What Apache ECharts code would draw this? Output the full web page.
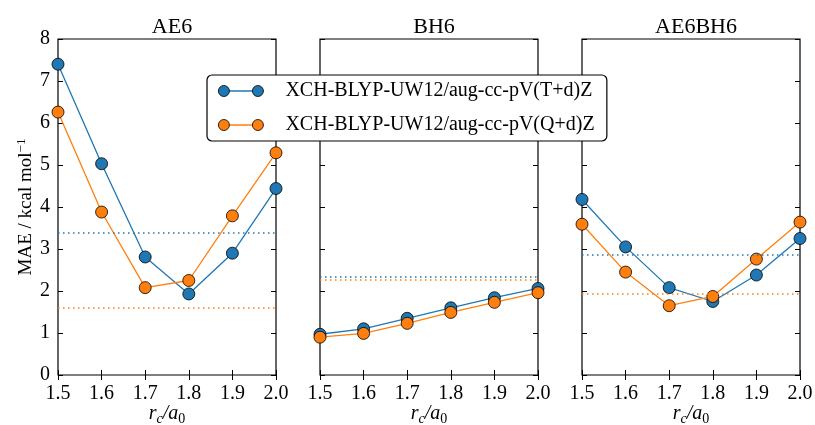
<!DOCTYPE html>
<html><head><meta charset="utf-8">
<script src="https://cdn.jsdelivr.net/npm/echarts@6/dist/echarts.min.js"></script>
<style>html,body{margin:0;padding:0;background:#fff}#c{width:815px;height:425px}</style>
</head><body><div id="c"></div>
<script>
const xValues=[1.5,1.6,1.7,1.8,1.9,2.0];
const panelTitles=['AE6','BH6','AE6BH6'];
const seriesNames=['XCH-BLYP-UW12/aug-cc-pV(T+d)Z','XCH-BLYP-UW12/aug-cc-pV(Q+d)Z'];
const ae6T=[7.40,5.03,2.81,1.93,2.90,4.44];
const ae6Q=[6.26,3.88,2.08,2.25,3.79,5.29];
const bh6T=[0.97,1.10,1.35,1.60,1.84,2.06];
const bh6Q=[0.90,0.99,1.23,1.49,1.73,1.96];
const ae6bh6T=[4.18,3.05,2.08,1.75,2.38,3.25];
const ae6bh6Q=[3.59,2.45,1.65,1.87,2.76,3.64];
const refT=[3.39,2.34,2.86];
const refQ=[1.60,2.26,1.93];
const yMin=0,yMax=8,yStep=1;
const xMin=1.5,xMax=2.0,xStep=0.1;

const colors=['#1f77b4','#ff7f0e'];
const panelData=[[ae6T,ae6Q],[bh6T,bh6Q],[ae6bh6T,ae6bh6Q]];
const refs=[refT,refQ];
const FONT='Liberation Serif';
const lefts=[58,320,582], W=218, TOP=39, H=336;

const grids=[],xAxes=[],yAxes=[],series=[],titles=[];
for(let i=0;i<3;i++){
  grids.push({left:lefts[i],top:TOP,width:W,height:H,show:true,borderColor:'#000',borderWidth:1.2,backgroundColor:'transparent',outerBoundsMode:'none',containLabel:false});
  titles.push({text:panelTitles[i],left:lefts[i]+W/2,top:11,textAlign:'center',textStyle:{fontFamily:FONT,fontSize:22,fontWeight:'normal',color:'#000'}});
  const tick={show:true,inside:true,length:5,lineStyle:{color:'#000',width:1}};
  xAxes.push({type:'value',gridIndex:i,min:xMin,max:xMax,interval:xStep,position:'bottom',
    axisLine:{show:false},axisTick:tick,splitLine:{show:false},
    axisLabel:{fontFamily:FONT,fontSize:20,color:'#000',margin:9,formatter:v=>v.toFixed(1)},
    name:'{i|r}{sub|c}{i|/a}{sub0|0}',nameLocation:'middle',nameGap:27,nameMoveOverlap:false,
    nameTextStyle:{fontFamily:FONT,fontSize:20,color:'#000',rich:{
      i:{fontFamily:FONT,fontSize:20,fontStyle:'italic',color:'#000'},
      sub:{fontFamily:FONT,fontSize:14,fontStyle:'italic',color:'#000',padding:[10,0,0,0]},
      sub0:{fontFamily:FONT,fontSize:14,color:'#000',padding:[10,0,0,0]}}}});
  xAxes.push({type:'value',gridIndex:i,min:xMin,max:xMax,interval:xStep,position:'top',
    axisLine:{show:false},axisTick:tick,axisLabel:{show:false},splitLine:{show:false}});
  const yl={type:'value',gridIndex:i,min:yMin,max:yMax,interval:yStep,position:'left',
    axisLine:{show:false},axisTick:tick,splitLine:{show:false},
    axisLabel:{show:i===0,fontFamily:FONT,fontSize:20,color:'#000',margin:8}};
  if(i===0){
    yl.name='MAE / kcal mol{sup|−1}';yl.nameLocation='middle';yl.nameGap=20;yl.nameMoveOverlap=false;
    yl.nameTextStyle={fontFamily:FONT,fontSize:19,color:'#000',rich:{
      sup:{fontFamily:FONT,fontSize:13,color:'#000',padding:[0,0,10,0]}}};
  }
  yAxes.push(yl);
  yAxes.push({type:'value',gridIndex:i,min:yMin,max:yMax,interval:yStep,position:'right',
    axisLine:{show:false},axisTick:tick,axisLabel:{show:false},splitLine:{show:false}});
  for(let s=0;s<2;s++){
    series.push({type:'line',name:seriesNames[s],xAxisIndex:2*i,yAxisIndex:2*i,
      data:xValues.map((x,k)=>[x,panelData[i][s][k]]),
      color:colors[s],symbol:'circle',symbolSize:12,z:3+s,
      lineStyle:{color:colors[s],width:1.3},
      itemStyle:{color:colors[s],borderColor:'#000',borderWidth:0.8},
      emphasis:{disabled:true},animation:false,
      markLine:{silent:true,symbol:'none',label:{show:false},animation:false,
        lineStyle:{color:colors[s],type:[1.5,3.5],width:1.6,cap:'butt'},
        data:[{yAxis:refs[s][i]}]}});
  }
}
const iconPath='path://M0,5.5a5.5,5.5 0 1,0 11,0a5.5,5.5 0 1,0 -11,0Z M34,5.5a5.5,5.5 0 1,0 11,0a5.5,5.5 0 1,0 -11,0Z';
const legendBase={data:seriesNames,orient:'vertical',left:207,top:75,
    itemWidth:45,itemHeight:11,itemGap:14,
    padding:[6,12,6,11],selectedMode:false};
const chart=echarts.init(document.getElementById('c'),null,{renderer:'canvas'});
chart.setOption({
  animation:false,
  title:titles,
  grid:grids,xAxis:xAxes,yAxis:yAxes,series:series,
  legend:[
    Object.assign({},legendBase,{z:10,
      itemStyle:{opacity:0},lineStyle:{width:1.3},
      backgroundColor:'#fff',borderColor:'#000',borderWidth:1.2,borderRadius:5,
      textStyle:{fontFamily:FONT,fontSize:20,color:'rgba(0,0,0,0)',padding:[0,0,0,17]}}),
    Object.assign({},legendBase,{z:11,icon:iconPath,
      itemStyle:{borderColor:'#000',borderWidth:0.8},
      backgroundColor:'transparent',borderWidth:0,
      textStyle:{fontFamily:FONT,fontSize:20,color:'#000',padding:[0,0,0,17]}})
  ]
});
</script>
</body></html>
